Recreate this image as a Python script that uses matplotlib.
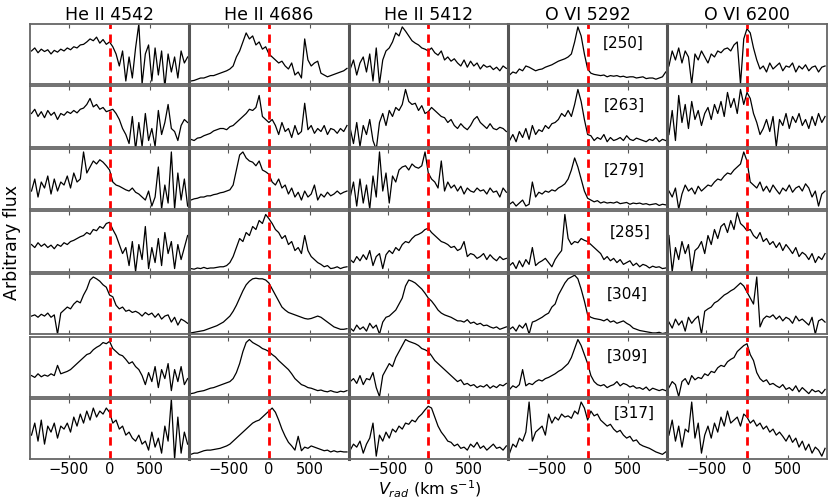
import numpy as np
import matplotlib.pyplot as plt

# line titles and epoch labels
titles = ["He II 4542", "He II 4686", "He II 5412", "O VI 5292", "O VI 6200"]
epochs = ["[250]", "[263]", "[279]", "[285]", "[304]", "[309]", "[317]"]

# velocity grid of the resampled spectra (km/s)
vrad = np.linspace(-960, 960, 49)

# arbitrary flux (0-100 per panel), one list per epoch
he4542 = [
    [55,60,52,58,54,57,50,56,53,58, 55,60,57,62,60,65,66,70, 75,72,78,68,74,66, 70,
     62,50,30,55,5,45,10,60,100,0,50,65,5,60,15,55,-5,50,20,45,10,55,35,45],
    [55,62,50,58,48,60,52,57,45,55, 52,58,55,60,56,62,64,70, 80,66,70,62,65,58, 60,
     62,55,45,30,20,5,50,-5,40,0,55,10,30,0,60,20,40,70,30,25,10,35,45,40],
    [30,50,20,45,35,55,25,50,30,45, 40,55,35,60,45,50,95,60, 70,80,75,82,78,72, 65,
     45,40,38,35,32,30,35,28,25,20,15,30,5,20,70,0,40,10,95,0,60,15,50,5],
    [45,40,48,42,46,40,44,38,45,42, 48,45,50,52,55,58,60,65, 62,70,68,75,72,80, 82,
     70,60,45,30,40,10,50,0,45,20,75,5,40,15,55,10,65,30,50,5,45,20,40,60],
    [30,32,28,33,30,35,28,32,0,35, 40,45,42,50,55,52,65,75, 90,95,92,88,82,78, 65,
     62,48,42,45,38,40,36,38,35,30,36,32,35,28,34,25,30,32,20,28,15,25,22,18],
    [35,32,38,33,36,34,38,35,52,38, 40,42,45,50,55,60,65,70, 72,78,82,85,90,88, 92,
     80,75,70,68,62,55,58,50,45,35,20,40,25,50,15,45,30,55,10,45,25,50,20,30],
    [40,60,30,65,25,55,45,60,35,55, 50,60,45,70,55,75,60,80, 65,85,70,80,75,85, 78,
     60,65,50,55,40,45,35,30,40,25,30,15,45,20,35,10,55,30,100,0,70,10,45,25],
]
he4686 = [
    [5,6,8,10,10,12,14,14,16,18, 20,22,25,30,45,55,70,85, 75,80,65,70,58,62, 50,
     45,40,35,38,30,25,35,15,20,10,75,40,30,35,38,18,15,12,14,16,18,20,22,26],
    [12,10,14,15,18,20,22,26,28,30, 30,28,33,35,40,45,50,55, 62,60,65,85,50,45, 40,
     45,35,20,40,25,30,15,35,20,25,72,28,35,22,30,25,35,20,30,28,22,30,25,35],
    [15,17,18,20,20,22,22,24,25,27, 28,30,32,40,65,90,95,85, 80,78,72,80,65,62, 58,
     45,40,50,35,40,25,35,20,28,15,30,20,25,40,15,25,20,28,22,25,30,25,28,30],
    [5,4,6,5,7,5,6,6,7,8, 8,10,15,25,40,55,50,65, 60,75,70,85,80,95, 88,
     80,70,65,55,60,45,50,35,40,30,60,35,25,20,15,12,8,10,5,6,8,5,7,8],
    [2,3,4,5,6,8,10,12,14,17, 20,25,30,38,48,60,72,82, 88,92,93,92,92,90, 85,
     75,65,55,45,40,36,34,32,30,28,26,25,26,28,30,28,24,20,16,12,10,8,8,9],
    [5,6,8,9,10,12,14,15,17,19, 21,23,25,30,40,55,75,90, 95,90,87,84,80,78, 75,
     70,66,60,55,50,45,38,30,25,20,18,15,14,12,10,11,9,8,10,8,7,9,8,10],
    [8,10,10,12,14,15,15,16,17,18, 20,22,25,30,35,40,45,50, 55,60,63,65,70,75, 80,
     85,78,65,50,38,28,22,15,38,14,20,18,22,20,18,16,14,15,12,14,12,13,12,12],
]
he5412 = [
    [25,40,15,35,45,20,50,5,60,0, 40,55,60,70,85,80,95,88, 80,72,68,65,60,58, 55,
     60,52,48,55,40,45,38,42,35,30,40,28,38,30,35,25,32,28,30,24,28,22,30,26],
    [30,5,40,0,35,20,45,10,-5,40, 55,35,60,50,65,60,70,95, 75,70,72,60,68,55, 58,
     65,60,55,50,48,40,45,35,30,38,32,28,35,45,50,40,35,30,38,30,28,32,30,25],
    [20,45,5,50,10,40,0,55,20,95, 30,60,10,55,45,65,70,72, 65,75,70,68,72,95, 60,
     50,45,35,80,30,45,35,40,30,38,25,35,30,28,35,30,32,25,35,28,30,20,35,28],
    [20,15,25,18,28,20,35,10,25,30, 5,28,35,30,40,35,45,50, 48,55,60,62,65,70, 72,
     65,60,55,50,48,45,40,42,35,38,50,25,30,28,22,25,30,20,28,22,18,25,20,22],
    [10,5,15,8,12,5,18,10,15,0, 20,28,30,35,40,50,60,80, 90,88,85,80,75,68, 60,
     55,48,40,35,32,30,28,25,22,22,20,24,18,20,16,18,14,15,12,10,12,8,10,12],
    [25,30,22,35,20,30,28,40,15,0, 35,45,55,50,65,75,85,95, 92,90,88,85,80,78, 75,
     68,60,55,50,45,40,35,30,25,28,20,22,18,20,15,18,16,20,14,18,15,20,18,22],
    [15,25,20,30,10,25,35,60,5,40, 30,45,35,50,45,55,50,60, 58,65,62,70,75,82, 88,
     85,70,55,45,38,30,28,22,25,18,20,15,25,20,28,18,22,15,20,25,18,20,15,22],
]
ovi5292 = [
    [15,20,18,25,22,30,28,25,22,24, 25,28,30,32,35,38,40,42, 45,50,70,95,80,50, 25,
     18,16,15,14,15,12,14,13,14,12,13,11,12,12,10,11,12,9,10,10,8,10,12,20],
    [10,20,8,25,15,30,12,35,20,28, 25,35,30,38,40,45,55,50, 60,50,70,95,75,45, 20,
     18,10,15,12,20,8,15,10,12,15,10,18,12,10,14,12,10,8,12,10,15,8,12,10],
    [8,12,5,10,15,5,8,45,20,28, 25,30,28,32,30,35,38,42, 50,65,85,70,50,30, 18,
     15,12,14,10,12,10,11,10,12,9,10,11,8,10,9,10,8,9,7,8,9,6,8,7],
    [10,15,5,18,8,20,12,40,10,15, 18,22,15,8,20,28,35,95, 55,45,50,48,55,52, 50,
     45,40,35,30,20,25,18,22,15,20,12,15,18,10,14,8,12,10,6,9,7,8,5,6],
    [8,12,5,15,10,18,0,20,22,25, 28,32,35,45,50,65,75,85, 92,95,98,92,75,55, 32,
     28,26,25,24,22,25,20,22,18,20,22,18,15,10,8,6,5,4,3,2,2,3,1,2],
    [12,18,15,20,45,18,22,20,25,28, 26,30,32,35,38,42,45,50, 55,65,80,95,85,70, 55,
     35,25,20,18,20,15,18,20,25,18,22,20,16,18,14,15,12,16,10,14,12,10,12,10],
    [10,25,20,35,30,45,95,30,45,50, 55,40,75,60,70,65,75,70, 72,68,80,75,95,85, 65,
     80,72,75,65,60,55,58,50,45,48,40,35,38,30,32,25,22,20,18,15,12,10,8,12],
]
ovi6200 = [
    [30,55,40,60,35,55,45,0,50,40, 55,45,35,50,45,55,52,58, 60,55,65,70,0,75, 92,
     85,60,40,25,30,20,35,25,30,35,22,30,28,35,20,30,25,32,22,28,30,20,28,30],
    [20,60,10,85,40,70,30,75,45,60, 35,55,65,45,70,55,75,50, 90,65,80,55,95,70, 90,
     80,55,40,20,30,45,25,50,0,45,35,55,30,50,40,55,35,45,30,50,35,55,40,50],
    [30,20,35,0,25,40,30,35,25,38, 30,35,40,38,45,50,48,55, 60,58,65,70,75,95, 80,
     45,40,35,45,30,38,28,40,32,25,35,30,40,28,35,38,30,42,35,20,30,5,25,30],
    [60,0,40,20,50,30,45,0,35,40, 50,30,60,45,70,55,75,80, 65,85,70,98,80,75, 68,
     70,60,55,65,50,55,45,50,40,48,35,45,38,30,40,25,32,28,20,30,15,25,20,30],
    [20,10,25,15,22,5,28,18,25,30, 0,38,42,45,52,55,60,65, 68,72,75,80,85,80, 70,
     60,50,95,12,25,30,28,32,25,30,22,28,25,18,30,22,25,20,15,28,0,22,25,20],
    [15,25,20,0,25,30,20,35,28,32, 30,38,35,42,40,48,52,50, 58,62,65,75,80,85, 88,
     70,60,40,30,25,28,20,22,18,15,20,12,15,10,18,8,15,10,5,12,8,10,5,12],
    [40,65,30,55,20,50,45,95,35,60, 10,40,55,35,60,45,70,55, 80,60,65,70,55,75, 70,
     60,65,55,60,50,55,45,50,40,45,38,30,40,28,35,20,30,15,25,10,20,15,5,18],
]
columns = [he4542, he4686, he5412, ovi5292, ovi6200]
label_y = [0.67, 0.69, 0.64, 0.66, 0.67, 0.67, 0.76]
label_x = [0.72, 0.73, 0.73, 0.77, 0.75, 0.75, 0.79]

fig, axes = plt.subplots(7, 5, figsize=(8.3, 4.98), dpi=100)
fig.subplots_adjust(left=0.036, right=0.996, top=0.952, bottom=0.078,
                    wspace=0, hspace=0.04)

for j, col in enumerate(columns):
    for i, flux in enumerate(col):
        ax = axes[i, j]
        ax.plot(vrad, flux, color='black', lw=0.9)
        ax.axvline(0, color='red', ls='--', lw=2, dashes=(3, 2))
        ax.set_xlim(-980, 980)
        ax.set_ylim(0, 100)
        ax.set_xticks([-500, 0, 500])
        ax.set_yticks([])
        ax.tick_params(axis='x', direction='in', top=True, length=3,
                       color='#555555', labelsize=10.5, pad=2)
        for name, s in ax.spines.items():
            s.set_color('#666666')
            s.set_linewidth(1.3)
        if j > 0:
            ax.spines['left'].set_linewidth(2.2)
            ax.spines['left'].set_color('#555555')
        if i < 6:
            ax.set_xticklabels([])
        else:
            ax.set_xticklabels(['\u2212500', '0', '500'])
        if i == 0:
            ax.set_title(titles[j], fontsize=12.5, pad=3)
        if j == 3:
            ax.text(label_x[i], label_y[i], epochs[i], transform=ax.transAxes,
                    ha='center', va='center', fontsize=11)

fig.text(0.014, 0.513, 'Arbitrary flux', rotation=90, ha='center',
         va='center', fontsize=12.5)
fig.text(0.518, 0.018, r'$V_{rad}$ (km s$^{-1}$)', ha='center',
         va='center', fontsize=11.5)

fig.savefig('out.png', dpi=100)
